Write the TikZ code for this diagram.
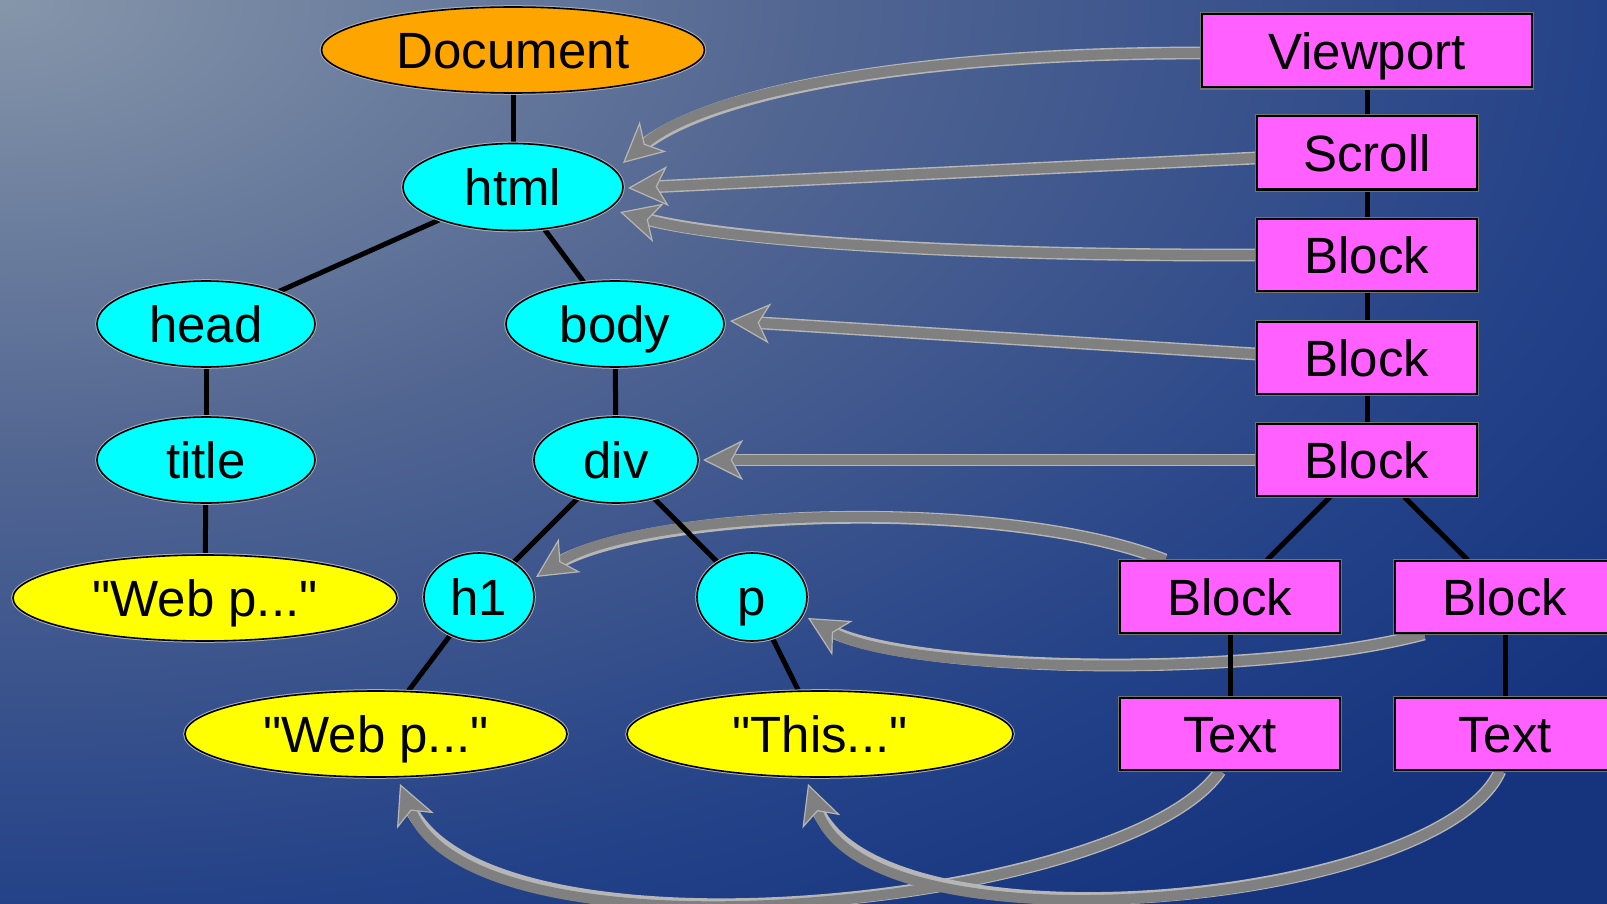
\documentclass[tikz,border=0pt]{standalone}
\usepackage{fontspec}
\setmainfont{Liberation Sans}[Ligatures=TeXOff]
\usetikzlibrary{arrows.meta,shapes.geometric,calc}

\definecolor{bgA}{RGB}{134,150,170}
\definecolor{bgB}{RGB}{82,102,146}
\definecolor{bgC}{RGB}{36,66,136}
\definecolor{bgD}{RGB}{22,52,126}
\definecolor{docfill}{RGB}{255,165,0}
\definecolor{elemfill}{RGB}{0,255,255}
\definecolor{textfill}{RGB}{255,255,0}
\definecolor{boxfill}{RGB}{255,96,255}
\definecolor{linkgray}{RGB}{128,128,128}
\definecolor{linkrim}{RGB}{182,182,182}
\definecolor{halo}{RGB}{170,176,190}

% radial page shading: 25bp is the rim of the shaded path
\pgfdeclareradialshading{pagebg}{\pgfpoint{0bp}{0bp}}{%
  color(0bp)=(bgA); color(10bp)=(bgB); color(20bp)=(bgC); color(25bp)=(bgD); color(50bp)=(bgD)}

\pgfdeclarelayer{bglayer}
\pgfdeclarelayer{links}
\pgfdeclarelayer{treelines}
\pgfsetlayers{bglayer,links,treelines,main}

\tikzset{
  label font/.style={font=\fontsize{25.5pt}{30pt}\selectfont, text=black,
    text height=18.3pt, text depth=0pt},
  oval/.style={ellipse, draw=black, line width=0.8pt, inner sep=0pt, label font,
    preaction={draw=halo, line width=1.8pt}},
  docnode/.style={oval, fill=docfill},
  elemnode/.style={oval, fill=elemfill},
  textnode/.style={oval, fill=textfill},
  boxnode/.style={rectangle, draw=black, line width=1pt, fill=boxfill, inner sep=0pt,
    label font, minimum width=110pt, minimum height=36pt,
    preaction={draw=black!55, line width=2.4pt}},
  treeline/.style={draw=black, line width=2.5pt},
  link/.style={draw=linkgray, line width=5pt,
    -{Stealth[length=20pt, width=20pt, inset=5.5pt, line width=0.6pt, color=linkrim, fill=linkgray]},
    preaction={draw=linkrim, line width=6.4pt, arrows=-, shorten >=10pt}},
}

\begin{document}
\begin{tikzpicture}[x=0.5pt, y=-0.5pt]
\useasboundingbox (0,0) rectangle (1607,904);

% page background
\begin{pgfonlayer}{bglayer}
  \begin{scope}
    \clip (0,0) rectangle (1607,904);
    \fill[bgD] (0,0) rectangle (1607,904);
    \shade[shading=pagebg] (0,0) ellipse [x radius=1004.5pt, y radius=565pt];
  \end{scope}
\end{pgfonlayer}

% DOM tree
\node[docnode,  minimum width=191.5pt, minimum height=43pt]  (doc)   at (513,50)  {Document};
\node[elemnode, minimum width=110pt,   minimum height=43.5pt](html)  at (513,187) {html};
\node[elemnode, minimum width=109pt,   minimum height=43pt]  (head)  at (206,324) {head};
\node[elemnode, minimum width=109pt,   minimum height=43pt]  (body)  at (615,324) {body};
\node[elemnode, minimum width=109pt,   minimum height=43pt]  (title) at (206,460) {title};
\node[elemnode, minimum width=82pt,    minimum height=43pt]  (div)   at (616,460) {div};
\node[textnode, minimum width=192pt,   minimum height=43pt]  (webl)  at (205,598) {"Web p..."};
\node[elemnode, minimum width=55pt,    minimum height=44pt]  (h1)    at (479,597) {h1};
\node[elemnode, minimum width=55pt,    minimum height=44pt]  (p)     at (752,597) {p};
\node[textnode, minimum width=191pt,   minimum height=43pt]  (webm)  at (376,734) {"Web p..."};
\node[textnode, minimum width=193pt,   minimum height=43pt]  (this)  at (820,734) {"This..."};

% render tree
\node[boxnode, minimum width=165pt, minimum height=36.5pt] (vp) at (1367,51) {Viewport};
\node[boxnode, minimum height=36.5pt] (scroll) at (1367,153) {Scroll};
\node[boxnode] (b1) at (1367,255) {Block};
\node[boxnode] (b2) at (1367,358) {Block};
\node[boxnode] (b3) at (1367,460) {Block};
\node[boxnode] (b4) at (1230,597) {Block};
\node[boxnode] (b5) at (1505,597) {Block};
\node[boxnode] (t4) at (1230,734) {Text};
\node[boxnode] (t5) at (1505,734) {Text};

% tree edges
\begin{pgfonlayer}{treelines}
  \draw[treeline] (doc) -- (html);
  \draw[treeline] (html) -- (head);
  \draw[treeline] (html) -- (body);
  \draw[treeline] (head) -- (title);
  \draw[treeline] (title) -- (webl);
  \draw[treeline] (body) -- (div);
  \draw[treeline] (div) -- (h1);
  \draw[treeline] (div) -- (p);
  \draw[treeline] (h1) -- (webm);
  \draw[treeline] (p) -- (this);
  \draw[treeline] (vp) -- (scroll);
  \draw[treeline] (scroll) -- (b1);
  \draw[treeline] (b1) -- (b2);
  \draw[treeline] (b2) -- (b3);
  \draw[treeline] (b3) -- (b4);
  \draw[treeline] (b3) -- (b5);
  \draw[treeline] (b4) -- (t4);
  \draw[treeline] (b5) -- (t5);
\end{pgfonlayer}

% render objects pointing back to their DOM nodes
\begin{pgfonlayer}{links}
  \draw[link] ($(vp.west)+(0,2)$) .. controls (900,53) and (700,95) .. ($(html.center)+(110,-24)$);
  \draw[link] ($(scroll.west)+(0,5)$) -- ($(html.center)+(115,1)$);
  \draw[link] (b1.west) .. controls (950,256) and (720,240) .. ($(html.center)+(107,25)$);
  \draw[link] ($(b2.west)+(0,-4)$) -- ($(body.center)+(115,-3)$);
  \draw[link] (b3.west) -- ($(div.center)+(87,0)$);
  \draw[link] ($(b4.north west)+(46,0)$) .. controls (1000,495) and (640,510) .. ($(h1.center)+(57,-20)$);
  \draw[link] ($(b5.south west)+(30,0)$) .. controls (1250,680) and (900,672) .. ($(p.center)+(56,21)$);
  \draw[link] ($(t4.south)+(-10,0)$) .. controls (1130,905) and (480,975) .. ($(webm.center)+(24,50)$);
  \draw[link] ($(t5.south)+(-5,0)$) .. controls (1440,905) and (870,960) .. ($(this.center)+(-12,50)$);
\end{pgfonlayer}
\end{tikzpicture}
\end{document}
